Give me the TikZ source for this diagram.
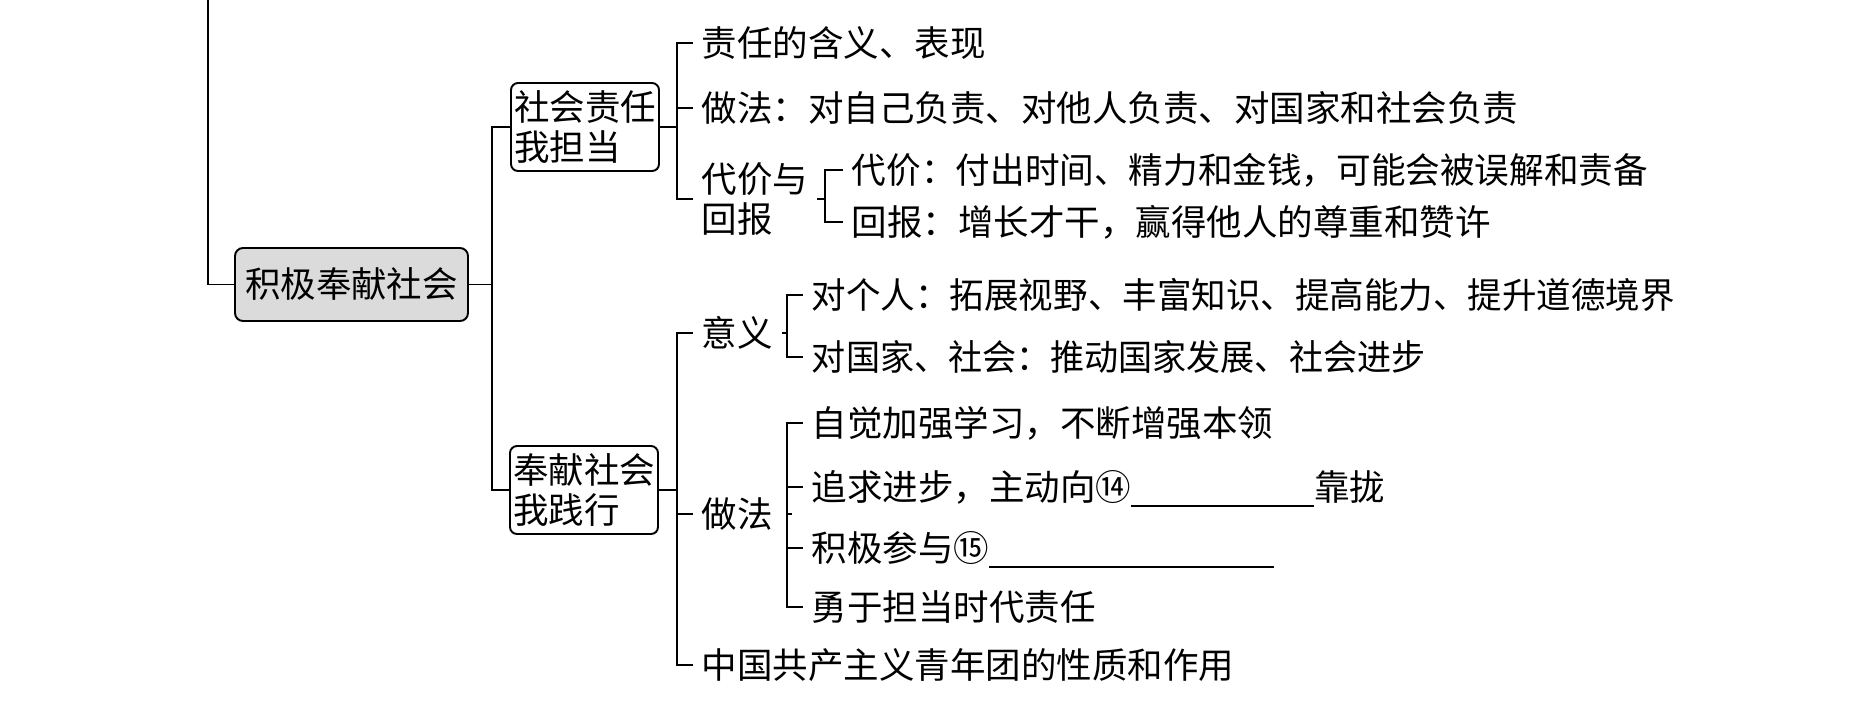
\documentclass[tikz,border=0pt]{standalone}
\usepackage{fontspec}
\usepackage{graphicx}
\setmainfont{Noto Sans CJK SC}
\newcommand\zhsize{\fontsize{10.1pt}{11.1pt}\selectfont}
\newcommand\blank[1]{\raisebox{-1.8pt}{\rule{#1}{0.45pt}}}
\newcommand\narrow[2]{\scalebox{#1}[1]{#2}}
\definecolor{boxgray}{gray}{0.86}

\begin{document}
\begin{tikzpicture}[y=-1cm, line width=0.55pt,
    every node/.style={font=\zhsize},
    mainbox/.style={draw, rounded corners=0.08cm, fill=boxgray, minimum height=0.73cm, inner xsep=0.1cm},
    subbox/.style={draw, rounded corners=0.07cm, align=left, minimum height=0.88cm, inner xsep=0.03cm, inner ysep=0.05cm},
    item/.style={anchor=west, inner xsep=0.08cm, inner ysep=0.02cm, align=left},
    line/.style={item, text height=0.83em, text depth=0.07em}]
    \useasboundingbox (0, 0) rectangle (18.64, 7.01);

    \node [mainbox] (main) at (3.515, 2.845) {积极奉献社会};
    \node [subbox] (duty) at (5.85, 1.27) {社会责任\\我担当};
    \node [subbox] (serve) at (5.84, 4.90) {奉献社会\\我践行};

    % upper branch
    \node [line] (meaning) at (6.93, 0.43) {责任的含义、表现};
    \node [line] (dutyway) at (6.93, 1.08) {做法：对自己负责、对他人负责、对国家和社会负责};
    \node [item] (cost) at (6.93, 1.99) {代价与\\回报};
    \node [line] (price) at (8.43, 1.70) {\narrow{0.975}{代价：付出时间、精力和金钱，可能会被误解和责备}};
    \node [line] (reward) at (8.43, 2.22) {回报：增长才干，赢得他人的尊重和赞许};

    % lower branch
    \node [line] (sense) at (6.93, 3.33) {意义};
    \node [line] (self) at (8.03, 2.95) {\narrow{0.972}{对个人：拓展视野、丰富知识、提高能力、提升道德境界}};
    \node [line] (nation) at (8.03, 3.57) {\narrow{0.96}{对国家、社会：推动国家发展、社会进步}};
    \node [line] (serveway) at (6.93, 5.14) {做法};
    \node [line] (study) at (8.03, 4.23) {自觉加强学习，不断增强本领};
    \node [line] (progress) at (8.03, 4.87) {追求进步，主动向⑭\blank{1.83cm}靠拢};
    \node [line] (join) at (8.03, 5.48) {积极参与⑮\blank{2.85cm}};
    \node [line] (brave) at (8.03, 6.07) {勇于担当时代责任};
    \node [line] (league) at (6.93, 6.65) {中国共产主义青年团的性质和作用};

    \coordinate (top) at (2.08, 0);
    \coordinate (trunk) at (4.92, 2.845);
    \coordinate (ba) at (6.77, 1.27);
    \coordinate (bb) at (6.77, 4.90);
    \coordinate (bc) at (8.25, 1.99);
    \coordinate (bd) at (7.87, 3.33);
    \coordinate (be) at (7.87, 5.14);

    \draw (top) |- (main.west);
    \draw (main.east) -- (trunk);
    \draw (duty.west) -| (trunk) |- (serve.west);

    \draw (duty.east) -- (ba);
    \draw (meaning.west) -| (ba) |- (cost.west);
    \draw (ba |- dutyway.west) -- (dutyway.west);
    \draw (cost.east) -- (bc);
    \draw (price.west) -| (bc) |- (reward.west);

    \draw (serve.east) -- (bb);
    \draw (sense.west) -| (bb) |- (league.west);
    \draw (bb |- serveway.west) -- (serveway.west);
    \draw (sense.east) -- (bd);
    \draw (self.west) -| (bd) |- (nation.west);
    \draw ([xshift=0.1cm]serveway.east) -- (be);
    \draw (study.west) -| (be) |- (brave.west);
    \draw (be |- progress.west) -- (progress.west);
    \draw (be |- join.west) -- (join.west);
  \end{tikzpicture}
\end{document}
